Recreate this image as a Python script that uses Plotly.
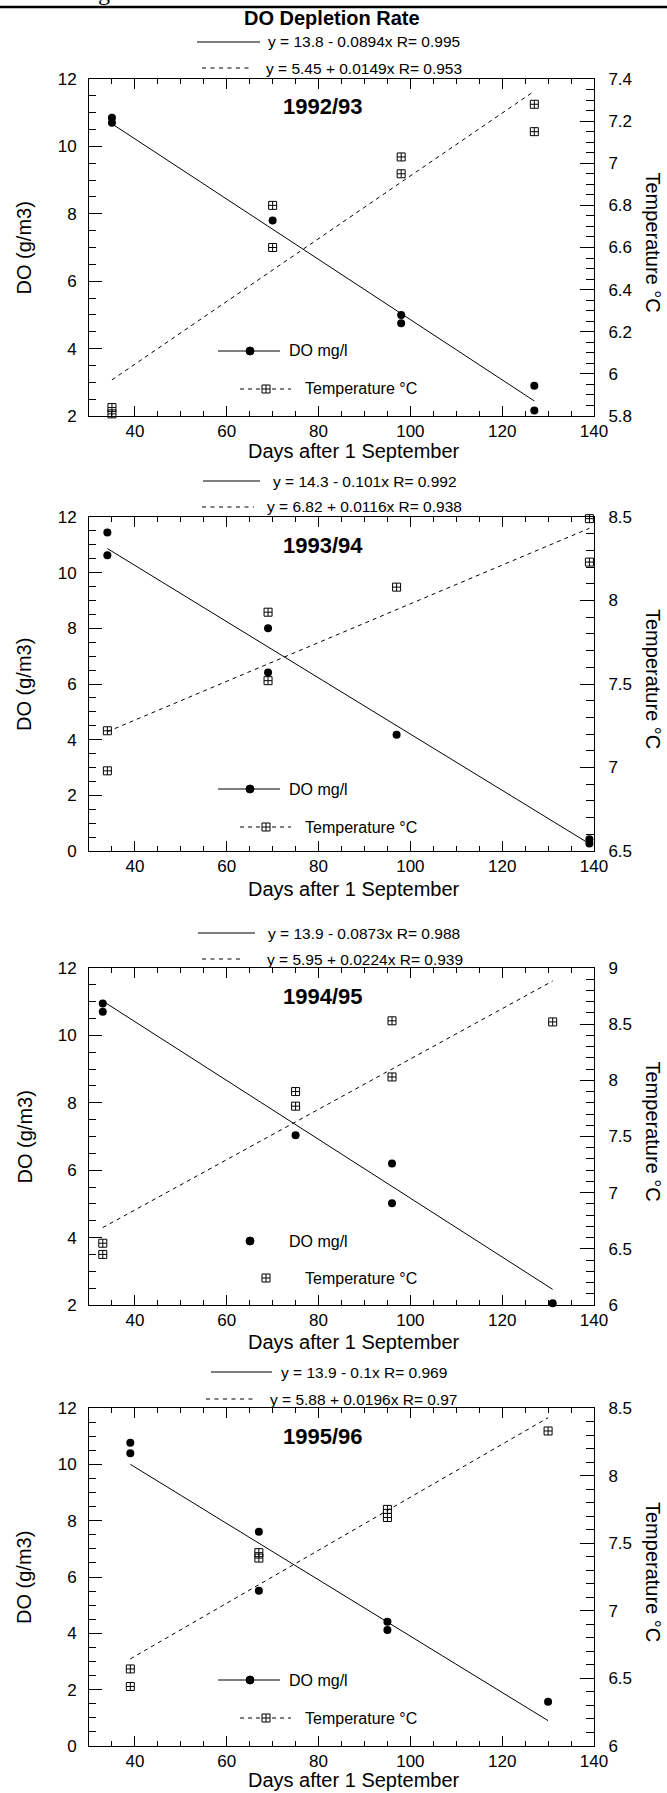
import plotly.graph_objects as go

W, H = 667, 1793
FONT = "Liberation Sans, Arial, sans-serif"

# ---------------- data ----------------
seasons = ["1992/93", "1993/94", "1994/95", "1995/96"]

do_x_9293 = [35, 35, 70, 98, 98, 127, 127]
do_y_9293 = [10.85, 10.70, 7.80, 5.00, 4.75, 2.90, 2.16]
t_x_9293 = [35, 35, 70, 70, 98, 98, 127, 127]
t_y_9293 = [5.84, 5.81, 6.80, 6.60, 7.03, 6.95, 7.28, 7.15]

do_x_9394 = [34, 34, 69, 69, 97, 139, 139]
do_y_9394 = [11.44, 10.63, 8.00, 6.41, 4.18, 0.42, 0.27]
t_x_9394 = [34, 34, 69, 69, 97, 139, 139]
t_y_9394 = [7.22, 6.98, 7.93, 7.52, 8.08, 8.49, 8.23]

do_x_9495 = [33, 33, 75, 96, 96, 131]
do_y_9495 = [10.95, 10.70, 7.04, 6.20, 5.02, 2.05]
t_x_9495 = [33, 33, 75, 75, 96, 96, 131]
t_y_9495 = [6.55, 6.45, 7.90, 7.77, 8.53, 8.03, 8.52]

do_x_9596 = [39, 39, 67, 67, 95, 95, 130]
do_y_9596 = [10.77, 10.39, 7.61, 5.51, 4.41, 4.12, 1.57]
t_x_9596 = [39, 39, 67, 67, 95, 95, 130]
t_y_9596 = [6.57, 6.44, 7.43, 7.39, 7.75, 7.69, 8.33]

do_x = [do_x_9293, do_x_9394, do_x_9495, do_x_9596]
do_y = [do_y_9293, do_y_9394, do_y_9495, do_y_9596]
t_x = [t_x_9293, t_x_9394, t_x_9495, t_x_9596]
t_y = [t_y_9293, t_y_9394, t_y_9495, t_y_9596]

# regression: intercept, slope
do_intercept = [13.8, 14.3, 13.9, 13.9]
do_slope = [-0.0894, -0.101, -0.0873, -0.1]
t_intercept = [5.45, 6.82, 5.95, 5.88]
t_slope = [0.0149, 0.0116, 0.0224, 0.0196]
do_eq = ["y = 13.8 - 0.0894x R= 0.995", "y = 14.3 - 0.101x R= 0.992",
         "y = 13.9 - 0.0873x R= 0.988", "y = 13.9 - 0.1x R= 0.969"]
t_eq = ["y = 5.45 + 0.0149x R= 0.953", "y = 6.82 + 0.0116x R= 0.938",
        "y = 5.95 + 0.0224x R= 0.939", "y = 5.88 + 0.0196x R= 0.97"]

do_range = [[2, 12], [0, 12], [2, 12], [0, 12]]
t_range = [[5.8, 7.4], [6.5, 8.5], [6, 9], [6, 8.5]]
t_dtick = [0.2, 0.5, 0.5, 0.5]
t_minor = [0.05, 0.1, 0.1, 0.1]
x_range = [30, 140]

# ---------------- layout geometry (pixels) ----------------
PX_L, PX_R = 89, 594
panel_top = [79, 517, 968, 1408]
panel_bot = [416, 851, 1305, 1746]
xtitle_y = [451, 889, 1342, 1780]
eq1 = [(42, 197, 260, 266), (481, 203, 260, 271), (933, 198, 255, 266), (1372, 211, 272, 279)]
eq2 = [(68, 202, 253, 264), (507, 202, 254, 265), (959, 202, 242, 265), (1399, 206, 257, 268)]
leg_do_y = [351, 789, 1241, 1680]
leg_t_y = [389, 827, 1278, 1718]
leg_lines = [True, True, False, True]


def fx(px):
    return px / W


def fy(py):
    return 1 - py / H


fig = go.Figure()
shapes, annotations = [], []
lay = {}

for i in range(4):
    xa = "x" if i == 0 else f"x{i+1}"
    ya = f"y{2*i+1}" if i > 0 else "y"
    yb = f"y{2*i+2}"
    xkey = "xaxis" if i == 0 else f"xaxis{i+1}"
    ykey = "yaxis" if i == 0 else f"yaxis{2*i+1}"
    y2key = f"yaxis{2*i+2}"
    dom_y = [fy(panel_bot[i]), fy(panel_top[i])]

    lay[xkey] = dict(domain=[fx(PX_L), fx(PX_R)], range=x_range, anchor=ya,
                     dtick=20, tick0=0, ticks="inside", ticklen=10, tickwidth=1,
                     tickcolor="black", showline=True, linecolor="black", linewidth=1,
                     mirror="ticks", showgrid=False, zeroline=False,
                     minor=dict(dtick=5, tick0=0, ticks="inside", ticklen=5,
                                tickcolor="black", tickwidth=1, showgrid=False),
                     tickfont=dict(size=17, color="black", family=FONT),
                     ticklabelstandoff=0)
    lay[ykey] = dict(domain=dom_y, range=do_range[i], anchor=xa, dtick=2, tick0=0,
                     ticks="inside", ticklen=13, tickwidth=1, tickcolor="black",
                     showline=True, linecolor="black", linewidth=1, showgrid=False,
                     zeroline=False,
                     minor=dict(dtick=0.5, tick0=0, ticks="inside", ticklen=7,
                                tickcolor="black", tickwidth=1, showgrid=False),
                     tickfont=dict(size=17, color="black", family=FONT),
                     ticklabelstandoff=8)
    lay[y2key] = dict(domain=dom_y, range=t_range[i], anchor=xa, overlaying=ya,
                      side="right", dtick=t_dtick[i], tick0=0, ticks="inside",
                      ticklen=14, tickwidth=1, tickcolor="black", showline=True,
                      linecolor="black", linewidth=1, showgrid=False, zeroline=False,
                      minor=dict(dtick=t_minor[i], tick0=0, ticks="inside", ticklen=8,
                                 tickcolor="black", tickwidth=1, showgrid=False),
                      tickfont=dict(size=17, color="black", family=FONT),
                      ticklabelstandoff=10)

    # data points
    fig.add_trace(go.Scatter(x=do_x[i], y=do_y[i], xaxis=xa, yaxis=ya, mode="markers",
                             marker=dict(symbol="circle", size=8, color="black"),
                             showlegend=False, cliponaxis=False))
    fig.add_trace(go.Scatter(x=t_x[i], y=t_y[i], xaxis=xa, yaxis=yb, mode="markers",
                             marker=dict(symbol="square-cross-open", size=8, color="black",
                                         line=dict(width=1, color="black")),
                             showlegend=False, cliponaxis=False))
    # regression lines
    x0, x1 = min(do_x[i]), max(do_x[i])
    fig.add_trace(go.Scatter(x=[x0, x1],
                             y=[do_intercept[i] + do_slope[i] * x0, do_intercept[i] + do_slope[i] * x1],
                             xaxis=xa, yaxis=ya, mode="lines",
                             line=dict(color="black", width=1), showlegend=False))
    tx0, tx1 = min(t_x[i]), max(t_x[i])
    fig.add_trace(go.Scatter(x=[tx0, tx1],
                             y=[t_intercept[i] + t_slope[i] * tx0, t_intercept[i] + t_slope[i] * tx1],
                             xaxis=xa, yaxis=yb, mode="lines",
                             line=dict(color="black", width=1, dash="4px,4px"), showlegend=False))

    # equation legend above panel
    yy, sx0, sx1, tx = eq1[i]
    shapes.append(dict(type="line", xref="paper", yref="paper", x0=fx(sx0), x1=fx(sx1),
                       y0=fy(yy), y1=fy(yy), line=dict(color="black", width=1)))
    annotations.append(dict(text=do_eq[i], x=fx(tx), y=fy(yy), xref="paper", yref="paper",
                            xanchor="left", yanchor="middle", showarrow=False,
                            font=dict(size=15.5, color="black", family=FONT)))
    yy, sx0, sx1, tx = eq2[i]
    shapes.append(dict(type="line", xref="paper", yref="paper", x0=fx(sx0), x1=fx(sx1),
                       y0=fy(yy), y1=fy(yy), line=dict(color="black", width=1, dash="4px,4.5px")))
    annotations.append(dict(text=t_eq[i], x=fx(tx), y=fy(yy), xref="paper", yref="paper",
                            xanchor="left", yanchor="middle", showarrow=False,
                            font=dict(size=15.5, color="black", family=FONT)))

    # panel season title
    annotations.append(dict(text="<b>%s</b>" % seasons[i], x=fx(323), y=fy(panel_top[i] + 28),
                            xref="paper", yref="paper", xanchor="center", yanchor="middle",
                            showarrow=False, font=dict(size=22, color="black", family=FONT)))
    # axis titles
    annotations.append(dict(text="Days after 1 September", x=fx(354), y=fy(xtitle_y[i]),
                            xref="paper", yref="paper", xanchor="center", yanchor="middle",
                            showarrow=False, font=dict(size=20, color="black", family=FONT)))
    cy = (panel_top[i] + panel_bot[i]) / 2
    annotations.append(dict(text="DO (g/m3)", x=fx(24), y=fy(cy), xref="paper", yref="paper",
                            xanchor="center", yanchor="middle", textangle=-90, showarrow=False,
                            font=dict(size=20, color="black", family=FONT)))
    annotations.append(dict(text="Temperature °C", x=fx(653), y=fy(cy - 5), xref="paper",
                            yref="paper", xanchor="center", yanchor="middle", textangle=90,
                            showarrow=False, font=dict(size=20, color="black", family=FONT)))

    # in-plot legend samples
    dy = leg_do_y[i]
    if leg_lines[i]:
        shapes.append(dict(type="line", xref="paper", yref="paper", x0=fx(218), x1=fx(280),
                           y0=fy(dy), y1=fy(dy), line=dict(color="black", width=1)))
    shapes.append(dict(type="circle", xref="paper", yref="paper", x0=fx(246), x1=fx(254),
                       y0=fy(dy + 4), y1=fy(dy - 4), fillcolor="black",
                       line=dict(color="black", width=1)))
    annotations.append(dict(text="DO mg/l", x=fx(287), y=fy(dy), xref="paper", yref="paper",
                            xanchor="left", yanchor="middle", showarrow=False,
                            font=dict(size=16, color="black", family=FONT)))
    ty = leg_t_y[i]
    if leg_lines[i]:
        shapes.append(dict(type="line", xref="paper", yref="paper", x0=fx(240), x1=fx(291),
                           y0=fy(ty), y1=fy(ty), line=dict(color="black", width=1, dash="4px,4px")))
    shapes.append(dict(type="rect", xref="paper", yref="paper", x0=fx(262), x1=fx(270),
                       y0=fy(ty + 4), y1=fy(ty - 4), fillcolor="white",
                       line=dict(color="black", width=1)))
    shapes.append(dict(type="line", xref="paper", yref="paper", x0=fx(266), x1=fx(266),
                       y0=fy(ty + 4), y1=fy(ty - 4), line=dict(color="black", width=1)))
    shapes.append(dict(type="line", xref="paper", yref="paper", x0=fx(262), x1=fx(270),
                       y0=fy(ty), y1=fy(ty), line=dict(color="black", width=1)))
    annotations.append(dict(text="Temperature °C", x=fx(303), y=fy(ty), xref="paper",
                            yref="paper", xanchor="left", yanchor="middle", showarrow=False,
                            font=dict(size=16, color="black", family=FONT)))

# top rule, cut-off text, main title
shapes.append(dict(type="line", xref="paper", yref="paper", x0=0, x1=1, y0=fy(7), y1=fy(7),
                   line=dict(color="black", width=2.5)))
annotations.append(dict(text="g", x=fx(104), y=fy(-8), xref="paper", yref="paper",
                        xanchor="center", yanchor="middle", showarrow=False,
                        font=dict(size=24, color="black", family="Liberation Serif, serif")))
annotations.append(dict(text="<b>DO Depletion Rate</b>", x=fx(332), y=fy(18), xref="paper",
                        yref="paper", xanchor="center", yanchor="middle", showarrow=False,
                        font=dict(size=20, color="black", family=FONT)))

fig.update_layout(width=W, height=H, autosize=False,
                  margin=dict(l=0, r=0, t=0, b=0, pad=0, autoexpand=False),
                  paper_bgcolor="white", plot_bgcolor="white",
                  showlegend=False, shapes=shapes, annotations=annotations,
                  font=dict(family=FONT, color="black"), **lay)

fig.write_html("out.html", config={"responsive": False},
               post_script="document.documentElement.style.margin='0';"
                           "document.body.style.margin='0';document.body.style.padding='0';"
                           "document.body.style.overflow='hidden';")
